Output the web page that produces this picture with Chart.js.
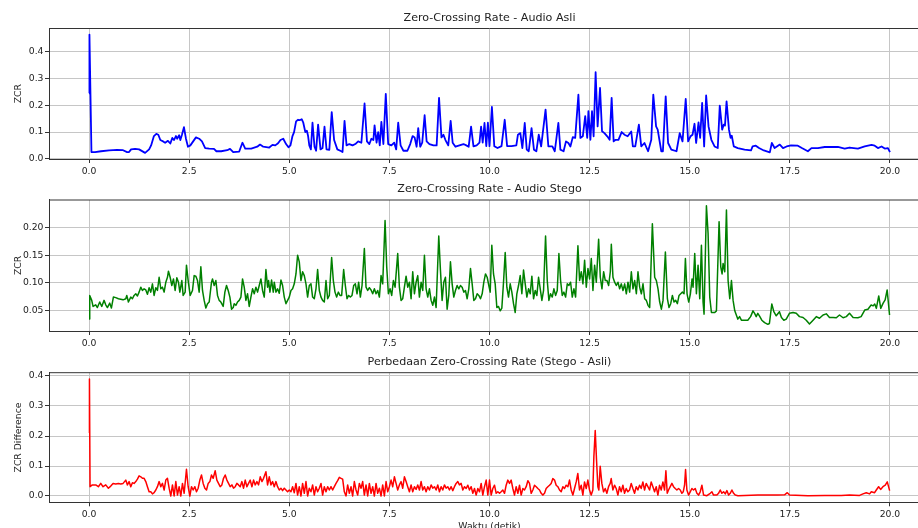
<!DOCTYPE html>
<html>
<head>
<meta charset="utf-8">
<script src="https://cdn.jsdelivr.net/npm/chart.js@4/dist/chart.umd.min.js"></script>
<style>
html,body{margin:0;padding:0;overflow:hidden;background:#fff;width:918px;height:528px;}
.w{position:absolute;left:0;}
</style>
</head>
<body>
<div class="w" style="top:11px"><canvas id="c1" width="940" height="168"></canvas></div>
<div class="w" style="top:182px"><canvas id="c2" width="940" height="169"></canvas></div>
<div class="w" style="top:355px"><canvas id="c3" width="940" height="185"></canvas></div>
<script>
// ---------- data (time in s, ZCR value) ----------
const titles = ["Zero-Crossing Rate - Audio Asli", "Zero-Crossing Rate - Audio Stego", "Perbedaan Zero-Crossing Rate (Stego - Asli)"];
const yLabels = ["ZCR", "ZCR", "ZCR Difference"];
const xLabel = "Waktu (detik)";
const xTicks = [0, 2.5, 5, 7.5, 10, 12.5, 15, 17.5, 20];
const yTicksAsli = [0, 0.1, 0.2, 0.3, 0.4];
const yTicksStego = [0.05, 0.10, 0.15, 0.20];
const yTicksDiff = [0, 0.1, 0.2, 0.3, 0.4];

const asli = [
[0,0.245],[0.01,0.465],[0.06,0.025],[0.15,0.025],[0.3,0.028],[0.5,0.031],[0.7,0.033],[0.85,0.032],[0.95,0.025],[1.0,0.025],[1.05,0.035],[1.15,0.037],[1.25,0.035],[1.4,0.022],[1.5,0.035],[1.55,0.05],[1.62,0.085],[1.68,0.093],[1.73,0.09],[1.78,0.07],[1.85,0.065],[1.9,0.06],[1.97,0.067],[2.03,0.057],[2.08,0.078],[2.12,0.07],[2.17,0.085],[2.2,0.075],[2.25,0.088],[2.28,0.07],[2.32,0.09],[2.37,0.118],[2.42,0.075],[2.47,0.045],[2.53,0.05],[2.6,0.065],[2.67,0.08],[2.75,0.075],[2.82,0.065],[2.9,0.04],[3.0,0.038],[3.12,0.037],[3.18,0.028],[3.3,0.028],[3.45,0.032],[3.52,0.037],[3.6,0.025],[3.75,0.027],[3.83,0.06],[3.9,0.038],[4.05,0.038],[4.2,0.045],[4.27,0.053],[4.35,0.045],[4.5,0.042],[4.58,0.052],[4.65,0.05],[4.72,0.058],[4.78,0.07],[4.85,0.075],[4.92,0.055],[4.98,0.043],[5.03,0.05],[5.08,0.085],[5.12,0.1],[5.17,0.14],[5.22,0.146],[5.27,0.145],[5.31,0.148],[5.35,0.135],[5.4,0.1],[5.44,0.105],[5.47,0.085],[5.5,0.05],[5.54,0.035],[5.58,0.135],[5.63,0.045],[5.67,0.03],[5.72,0.128],[5.78,0.035],[5.83,0.04],[5.88,0.12],[5.93,0.035],[6.0,0.033],[6.06,0.175],[6.12,0.07],[6.2,0.035],[6.3,0.028],[6.33,0.025],[6.38,0.142],[6.43,0.05],[6.5,0.055],[6.58,0.05],[6.65,0.055],[6.72,0.065],[6.8,0.06],[6.88,0.207],[6.94,0.065],[7.0,0.055],[7.05,0.075],[7.1,0.07],[7.13,0.125],[7.18,0.06],[7.22,0.1],[7.26,0.05],[7.3,0.138],[7.35,0.055],[7.41,0.243],[7.47,0.055],[7.55,0.05],[7.62,0.06],[7.67,0.035],[7.72,0.135],[7.78,0.05],[7.85,0.03],[7.95,0.03],[8.02,0.055],[8.08,0.085],[8.13,0.08],[8.18,0.045],[8.22,0.115],[8.27,0.045],[8.32,0.06],[8.38,0.163],[8.43,0.065],[8.5,0.055],[8.6,0.05],[8.68,0.05],[8.74,0.228],[8.8,0.08],[8.85,0.09],[8.9,0.07],[8.97,0.05],[9.03,0.142],[9.08,0.06],[9.15,0.045],[9.25,0.05],[9.35,0.055],[9.42,0.05],[9.48,0.045],[9.54,0.12],[9.6,0.046],[9.68,0.05],[9.75,0.06],[9.79,0.12],[9.83,0.06],[9.875,0.134],[9.92,0.047],[9.96,0.135],[10.0,0.047],[10.06,0.194],[10.12,0.047],[10.2,0.04],[10.3,0.047],[10.38,0.146],[10.44,0.047],[10.55,0.047],[10.67,0.05],[10.71,0.09],[10.77,0.096],[10.82,0.04],[10.88,0.134],[10.93,0.034],[10.98,0.028],[11.05,0.115],[11.11,0.034],[11.17,0.028],[11.23,0.09],[11.29,0.046],[11.4,0.184],[11.47,0.046],[11.57,0.046],[11.63,0.028],[11.72,0.134],[11.77,0.034],[11.85,0.028],[11.91,0.065],[11.97,0.059],[12.02,0.046],[12.08,0.081],[12.14,0.078],[12.22,0.24],[12.27,0.078],[12.33,0.084],[12.39,0.16],[12.44,0.078],[12.47,0.178],[12.52,0.071],[12.56,0.178],[12.6,0.084],[12.65,0.324],[12.7,0.121],[12.76,0.265],[12.81,0.103],[12.87,0.096],[12.94,0.084],[13.0,0.071],[13.05,0.228],[13.1,0.065],[13.15,0.071],[13.22,0.071],[13.3,0.1],[13.37,0.09],[13.45,0.084],[13.54,0.102],[13.58,0.046],[13.64,0.046],[13.73,0.128],[13.79,0.046],[13.87,0.059],[13.96,0.028],[14.04,0.071],[14.09,0.24],[14.16,0.121],[14.2,0.109],[14.29,0.028],[14.33,0.028],[14.4,0.234],[14.46,0.059],[14.54,0.034],[14.67,0.028],[14.75,0.096],[14.82,0.065],[14.9,0.224],[14.96,0.065],[15.02,0.084],[15.07,0.09],[15.12,0.131],[15.16,0.059],[15.22,0.136],[15.26,0.078],[15.31,0.209],[15.36,0.046],[15.41,0.237],[15.47,0.121],[15.54,0.071],[15.62,0.046],[15.7,0.04],[15.75,0.199],[15.81,0.109],[15.85,0.128],[15.88,0.124],[15.92,0.215],[15.98,0.109],[16.02,0.078],[16.05,0.086],[16.1,0.046],[16.2,0.04],[16.37,0.034],[16.53,0.031],[16.57,0.046],[16.65,0.049],[16.73,0.04],[16.85,0.031],[17.0,0.024],[17.05,0.059],[17.12,0.04],[17.25,0.053],[17.33,0.04],[17.42,0.046],[17.53,0.05],[17.7,0.049],[17.8,0.04],[17.95,0.028],[18.04,0.04],[18.2,0.04],[18.37,0.044],[18.7,0.044],[18.87,0.038],[18.99,0.042],[19.2,0.038],[19.37,0.046],[19.54,0.052],[19.62,0.049],[19.7,0.04],[19.79,0.046],[19.87,0.038],[19.95,0.04],[20.0,0.025]
];

const stego = [
[0,0.034],[0.017,0.077],[0.067,0.068],[0.1,0.057],[0.167,0.060],[0.208,0.055],[0.267,0.065],[0.317,0.057],[0.375,0.068],[0.417,0.060],[0.458,0.055],[0.517,0.063],[0.558,0.054],[0.608,0.074],[0.667,0.073],[0.733,0.071],[0.792,0.070],[0.85,0.069],[0.917,0.071],[0.942,0.077],[0.983,0.065],[1.042,0.074],[1.083,0.071],[1.125,0.077],[1.167,0.080],[1.208,0.076],[1.25,0.083],[1.292,0.092],[1.333,0.086],[1.375,0.089],[1.417,0.087],[1.458,0.079],[1.5,0.091],[1.542,0.083],[1.583,0.098],[1.625,0.077],[1.667,0.091],[1.708,0.086],[1.75,0.110],[1.792,0.089],[1.833,0.092],[1.875,0.083],[1.917,0.101],[1.958,0.110],[1.983,0.121],[2.025,0.110],[2.067,0.095],[2.108,0.107],[2.15,0.086],[2.192,0.109],[2.233,0.101],[2.267,0.083],[2.317,0.104],[2.35,0.077],[2.4,0.083],[2.433,0.132],[2.475,0.104],[2.525,0.077],[2.583,0.086],[2.625,0.113],[2.667,0.112],[2.708,0.104],[2.75,0.083],[2.792,0.129],[2.833,0.086],[2.875,0.068],[2.917,0.054],[2.958,0.062],[3.0,0.065],[3.058,0.101],[3.083,0.107],[3.125,0.095],[3.167,0.104],[3.208,0.077],[3.25,0.068],[3.292,0.065],[3.35,0.057],[3.392,0.083],[3.433,0.095],[3.475,0.086],[3.517,0.074],[3.558,0.052],[3.6,0.055],[3.625,0.062],[3.667,0.059],[3.708,0.065],[3.75,0.068],[3.792,0.074],[3.833,0.107],[3.875,0.092],[3.917,0.068],[3.958,0.080],[4.0,0.057],[4.042,0.074],[4.083,0.089],[4.125,0.080],[4.167,0.092],[4.208,0.083],[4.25,0.095],[4.292,0.107],[4.333,0.086],[4.375,0.074],[4.417,0.124],[4.458,0.092],[4.483,0.104],[4.517,0.083],[4.558,0.105],[4.6,0.083],[4.625,0.101],[4.667,0.083],[4.708,0.089],[4.75,0.081],[4.792,0.105],[4.833,0.095],[4.875,0.074],[4.917,0.062],[4.958,0.068],[5.0,0.074],[5.042,0.086],[5.083,0.089],[5.125,0.098],[5.167,0.116],[5.208,0.150],[5.25,0.138],[5.292,0.104],[5.333,0.120],[5.375,0.113],[5.417,0.098],[5.458,0.074],[5.5,0.095],[5.542,0.098],[5.583,0.074],[5.625,0.071],[5.667,0.089],[5.708,0.124],[5.75,0.086],[5.792,0.074],[5.833,0.068],[5.875,0.065],[5.917,0.104],[5.958,0.071],[6.0,0.077],[6.058,0.146],[6.1,0.104],[6.142,0.083],[6.183,0.074],[6.225,0.083],[6.267,0.077],[6.308,0.077],[6.358,0.124],[6.4,0.095],[6.442,0.071],[6.483,0.077],[6.525,0.074],[6.567,0.077],[6.608,0.095],[6.65,0.098],[6.692,0.080],[6.733,0.101],[6.775,0.074],[6.817,0.095],[6.875,0.162],[6.917,0.092],[6.958,0.086],[7.0,0.091],[7.042,0.087],[7.083,0.080],[7.125,0.089],[7.167,0.080],[7.208,0.086],[7.25,0.074],[7.292,0.113],[7.333,0.098],[7.392,0.213],[7.433,0.129],[7.475,0.080],[7.517,0.089],[7.558,0.077],[7.6,0.104],[7.642,0.092],[7.708,0.153],[7.75,0.092],[7.792,0.068],[7.833,0.071],[7.875,0.092],[7.917,0.112],[7.958,0.092],[8.0,0.101],[8.042,0.071],[8.083,0.120],[8.125,0.080],[8.167,0.101],[8.208,0.113],[8.25,0.074],[8.292,0.101],[8.333,0.086],[8.375,0.150],[8.417,0.089],[8.458,0.074],[8.5,0.089],[8.542,0.068],[8.583,0.059],[8.625,0.074],[8.667,0.055],[8.733,0.185],[8.775,0.123],[8.817,0.068],[8.858,0.101],[8.9,0.110],[8.942,0.052],[8.983,0.077],[9.025,0.138],[9.067,0.098],[9.108,0.074],[9.15,0.086],[9.192,0.095],[9.233,0.089],[9.275,0.095],[9.317,0.092],[9.358,0.083],[9.4,0.086],[9.442,0.071],[9.483,0.089],[9.525,0.126],[9.567,0.098],[9.608,0.068],[9.65,0.071],[9.692,0.080],[9.733,0.077],[9.775,0.071],[9.817,0.080],[9.858,0.101],[9.9,0.116],[9.942,0.110],[9.983,0.095],[10.017,0.083],[10.058,0.168],[10.1,0.116],[10.142,0.098],[10.183,0.055],[10.225,0.057],[10.267,0.049],[10.308,0.054],[10.35,0.101],[10.392,0.155],[10.433,0.092],[10.475,0.074],[10.517,0.098],[10.558,0.083],[10.6,0.062],[10.642,0.046],[10.683,0.080],[10.725,0.095],[10.767,0.113],[10.808,0.080],[10.85,0.123],[10.892,0.098],[10.933,0.074],[10.975,0.089],[11.017,0.080],[11.058,0.112],[11.1,0.071],[11.142,0.086],[11.183,0.077],[11.225,0.110],[11.267,0.089],[11.308,0.068],[11.35,0.086],[11.4,0.185],[11.442,0.104],[11.483,0.068],[11.525,0.080],[11.567,0.074],[11.608,0.089],[11.65,0.077],[11.692,0.086],[11.733,0.153],[11.775,0.104],[11.817,0.077],[11.858,0.083],[11.9,0.074],[11.942,0.098],[11.983,0.095],[12.025,0.101],[12.067,0.074],[12.108,0.089],[12.15,0.074],[12.208,0.167],[12.25,0.104],[12.292,0.120],[12.333,0.098],[12.375,0.141],[12.417,0.092],[12.458,0.126],[12.5,0.107],[12.542,0.144],[12.583,0.086],[12.625,0.132],[12.667,0.101],[12.725,0.179],[12.767,0.110],[12.808,0.089],[12.85,0.120],[12.892,0.104],[12.933,0.104],[12.975,0.095],[13.017,0.120],[13.042,0.170],[13.083,0.110],[13.125,0.101],[13.167,0.095],[13.208,0.101],[13.25,0.089],[13.292,0.098],[13.333,0.086],[13.375,0.098],[13.417,0.080],[13.458,0.101],[13.5,0.083],[13.542,0.120],[13.583,0.089],[13.625,0.104],[13.667,0.080],[13.708,0.120],[13.75,0.092],[13.792,0.080],[13.833,0.098],[13.875,0.071],[13.917,0.068],[13.958,0.059],[14.0,0.055],[14.067,0.207],[14.125,0.110],[14.167,0.104],[14.208,0.089],[14.25,0.065],[14.292,0.052],[14.333,0.068],[14.392,0.156],[14.442,0.071],[14.483,0.055],[14.525,0.062],[14.567,0.077],[14.608,0.065],[14.65,0.068],[14.692,0.062],[14.733,0.077],[14.775,0.080],[14.817,0.083],[14.858,0.080],[14.892,0.144],[14.933,0.080],[14.975,0.065],[15.017,0.080],[15.058,0.107],[15.083,0.092],[15.125,0.153],[15.167,0.080],[15.208,0.132],[15.25,0.071],[15.292,0.168],[15.333,0.065],[15.358,0.043],[15.417,0.240],[15.458,0.190],[15.5,0.074],[15.542,0.046],[15.625,0.046],[15.667,0.049],[15.733,0.211],[15.775,0.129],[15.808,0.116],[15.833,0.135],[15.875,0.120],[15.917,0.232],[15.958,0.104],[16.0,0.071],[16.042,0.104],[16.083,0.068],[16.125,0.049],[16.2,0.034],[16.245,0.0385],[16.29,0.032],[16.37,0.032],[16.45,0.032],[16.52,0.0385],[16.58,0.049],[16.62,0.0445],[16.66,0.0385],[16.70,0.0445],[16.74,0.040],[16.80,0.032],[16.87,0.0275],[16.95,0.0245],[16.99,0.026],[17.05,0.0615],[17.10,0.0475],[17.16,0.040],[17.24,0.0475],[17.29,0.037],[17.35,0.032],[17.41,0.034],[17.49,0.0445],[17.58,0.046],[17.66,0.0445],[17.74,0.0385],[17.83,0.037],[17.91,0.032],[17.99,0.025],[18.08,0.032],[18.16,0.0385],[18.24,0.0355],[18.33,0.0415],[18.41,0.0435],[18.49,0.037],[18.58,0.037],[18.66,0.0365],[18.74,0.0415],[18.83,0.0365],[18.91,0.0385],[18.99,0.0445],[19.08,0.037],[19.2,0.0365],[19.28,0.0385],[19.37,0.0505],[19.45,0.052],[19.53,0.0595],[19.58,0.058],[19.62,0.0615],[19.66,0.0535],[19.72,0.076],[19.77,0.0535],[19.83,0.063],[19.88,0.069],[19.93,0.087],[19.99,0.0415]
];

const diff = [
[0,0.21],[0.01,0.39],[0.025,0.031],[0.083,0.037],[0.167,0.037],[0.233,0.031],[0.292,0.042],[0.35,0.031],[0.417,0.037],[0.483,0.026],[0.542,0.033],[0.6,0.042],[0.667,0.040],[0.733,0.042],[0.792,0.040],[0.85,0.042],[0.917,0.053],[0.958,0.037],[1.0,0.048],[1.042,0.031],[1.083,0.044],[1.125,0.042],[1.167,0.048],[1.208,0.056],[1.25,0.067],[1.292,0.064],[1.333,0.059],[1.375,0.059],[1.417,0.048],[1.458,0.031],[1.5,0.014],[1.542,0.014],[1.583,0.007],[1.625,0.011],[1.667,0.020],[1.708,0.031],[1.75,0.048],[1.792,0.031],[1.833,0.042],[1.875,0.020],[1.917,0.053],[1.958,0.059],[2.0,0.026],[2.042,0.0],[2.083,0.037],[2.125,0.0],[2.167,0.048],[2.208,0.003],[2.25,0.031],[2.292,0.0],[2.333,0.042],[2.375,0.009],[2.433,0.089],[2.475,0.031],[2.517,0.0],[2.558,0.031],[2.6,0.020],[2.642,0.031],[2.683,0.014],[2.725,0.026],[2.767,0.053],[2.808,0.070],[2.85,0.042],[2.892,0.026],[2.933,0.020],[2.975,0.042],[3.017,0.048],[3.058,0.070],[3.1,0.059],[3.15,0.084],[3.192,0.053],[3.233,0.042],[3.275,0.031],[3.317,0.037],[3.358,0.059],[3.4,0.070],[3.442,0.053],[3.483,0.042],[3.525,0.031],[3.567,0.037],[3.608,0.026],[3.65,0.031],[3.692,0.042],[3.733,0.037],[3.775,0.031],[3.817,0.048],[3.858,0.026],[3.9,0.053],[3.942,0.031],[3.983,0.042],[4.025,0.053],[4.067,0.031],[4.108,0.053],[4.15,0.037],[4.192,0.048],[4.233,0.037],[4.275,0.064],[4.317,0.048],[4.358,0.059],[4.417,0.081],[4.458,0.037],[4.5,0.064],[4.542,0.037],[4.583,0.048],[4.625,0.031],[4.667,0.048],[4.708,0.031],[4.75,0.020],[4.792,0.026],[4.833,0.018],[4.875,0.026],[4.917,0.020],[4.958,0.014],[5.0,0.020],[5.042,0.014],[5.083,0.031],[5.125,0.011],[5.167,0.042],[5.208,0.003],[5.25,0.031],[5.292,0.0],[5.333,0.042],[5.375,0.009],[5.417,0.048],[5.458,0.0],[5.5,0.026],[5.542,0.014],[5.583,0.037],[5.625,0.003],[5.667,0.031],[5.708,0.014],[5.75,0.026],[5.792,0.042],[5.833,0.003],[5.875,0.031],[5.917,0.014],[5.958,0.031],[6.0,0.020],[6.042,0.031],[6.083,0.020],[6.125,0.031],[6.167,0.042],[6.208,0.051],[6.25,0.062],[6.292,0.059],[6.333,0.056],[6.375,0.014],[6.417,0.0],[6.458,0.037],[6.5,0.009],[6.542,0.031],[6.583,0.0],[6.625,0.048],[6.667,0.020],[6.708,0.003],[6.75,0.042],[6.792,0.026],[6.833,0.048],[6.875,0.003],[6.917,0.037],[6.958,0.0],[7.0,0.042],[7.042,0.009],[7.083,0.031],[7.125,0.0],[7.167,0.042],[7.208,0.009],[7.25,0.026],[7.292,0.0],[7.333,0.037],[7.375,0.0],[7.417,0.048],[7.458,0.014],[7.5,0.031],[7.542,0.053],[7.583,0.031],[7.625,0.064],[7.667,0.042],[7.708,0.020],[7.75,0.037],[7.792,0.048],[7.833,0.026],[7.875,0.064],[7.917,0.048],[7.958,0.031],[8.0,0.014],[8.042,0.037],[8.083,0.014],[8.125,0.031],[8.167,0.022],[8.208,0.037],[8.25,0.020],[8.292,0.048],[8.333,0.020],[8.375,0.031],[8.417,0.014],[8.458,0.031],[8.5,0.020],[8.542,0.037],[8.583,0.026],[8.625,0.031],[8.667,0.020],[8.708,0.037],[8.75,0.014],[8.792,0.031],[8.833,0.020],[8.875,0.037],[8.917,0.026],[8.958,0.031],[9.0,0.020],[9.042,0.031],[9.083,0.018],[9.125,0.031],[9.167,0.042],[9.208,0.048],[9.25,0.037],[9.292,0.042],[9.334,0.020],[9.376,0.031],[9.417,0.025],[9.459,0.036],[9.5,0.020],[9.542,0.031],[9.584,0.009],[9.625,0.025],[9.667,0.003],[9.709,0.025],[9.75,0.014],[9.792,0.042],[9.833,0.003],[9.875,0.031],[9.917,0.053],[9.958,0.003],[10.0,0.053],[10.042,0.003],[10.083,0.025],[10.125,0.036],[10.167,0.009],[10.208,0.014],[10.25,0.009],[10.291,0.014],[10.333,0.020],[10.375,0.009],[10.416,0.036],[10.458,0.053],[10.5,0.042],[10.541,0.053],[10.583,0.025],[10.624,0.003],[10.666,0.031],[10.708,0.009],[10.749,0.036],[10.791,0.003],[10.833,0.025],[10.874,0.020],[10.916,0.031],[10.958,0.051],[10.999,0.042],[11.041,0.009],[11.082,0.020],[11.124,0.036],[11.166,0.031],[11.207,0.025],[11.249,0.020],[11.291,0.009],[11.332,0.003],[11.374,0.009],[11.415,0.025],[11.457,0.031],[11.499,0.036],[11.54,0.042],[11.582,0.058],[11.624,0.053],[11.665,0.036],[11.707,0.031],[11.749,0.020],[11.79,0.014],[11.832,0.031],[11.873,0.025],[11.915,0.036],[11.957,0.031],[11.998,0.053],[12.04,0.020],[12.082,0.003],[12.123,0.025],[12.165,0.047],[12.206,0.075],[12.248,0.020],[12.29,0.036],[12.331,0.003],[12.373,0.047],[12.415,0.025],[12.456,0.053],[12.498,0.020],[12.54,0.003],[12.581,0.020],[12.606,0.130],[12.64,0.218],[12.673,0.119],[12.706,0.031],[12.731,0.020],[12.764,0.099],[12.806,0.042],[12.848,0.014],[12.889,0.025],[12.931,0.009],[12.973,0.031],[13.014,0.042],[13.039,0.058],[13.081,0.020],[13.122,0.036],[13.164,0.025],[13.206,0.003],[13.247,0.031],[13.289,0.014],[13.331,0.036],[13.372,0.009],[13.414,0.025],[13.455,0.014],[13.497,0.020],[13.539,0.042],[13.58,0.025],[13.622,0.009],[13.664,0.031],[13.705,0.020],[13.747,0.036],[13.788,0.025],[13.83,0.047],[13.872,0.020],[13.913,0.042],[13.955,0.031],[13.997,0.020],[14.038,0.047],[14.08,0.031],[14.122,0.014],[14.163,0.031],[14.205,0.003],[14.246,0.036],[14.288,0.020],[14.33,0.047],[14.371,0.020],[14.405,0.084],[14.438,0.009],[14.471,0.020],[14.513,0.031],[14.555,0.042],[14.596,0.031],[14.638,0.025],[14.679,0.020],[14.721,0.025],[14.763,0.020],[14.804,0.009],[14.838,0.014],[14.871,0.036],[14.896,0.088],[14.929,0.020],[14.971,0.003],[15.012,0.014],[15.054,0.025],[15.096,0.020],[15.137,0.025],[15.179,0.009],[15.221,0.003],[15.262,0.014],[15.304,0.036],[15.346,0.003],[15.429,0.001],[15.512,0.009],[15.554,0.014],[15.595,0.003],[15.679,0.003],[15.72,0.009],[15.762,0.020],[15.803,0.009],[15.845,0.014],[15.887,0.007],[15.928,0.018],[15.97,0.003],[16.012,0.009],[16.053,0.020],[16.095,0.009],[16.137,0.003],[16.203,0.001],[16.703,0.003],[17.202,0.003],[17.369,0.004],[17.436,0.011],[17.494,0.003],[17.952,0.001],[18.368,0.002],[18.784,0.002],[18.993,0.003],[19.242,0.002],[19.326,0.007],[19.409,0.011],[19.492,0.007],[19.534,0.014],[19.617,0.011],[19.659,0.020],[19.717,0.031],[19.767,0.022],[19.825,0.031],[19.883,0.036],[19.933,0.047],[19.992,0.018]
];

// ---------- rendering ----------
const FONT = "'DejaVu Sans', 'Liberation Sans', sans-serif";
const TXT = '#222';
const SPINE = '#333';
const GRID = '#c6c6c6';

const frame = {
  id: 'frame',
  afterDraw(c) {
    const a = c.chartArea, ctx = c.ctx;
    ctx.save();
    ctx.strokeStyle = SPINE; ctx.lineWidth = 1;
    ctx.beginPath();
    ctx.moveTo(a.left, a.top); ctx.lineTo(a.right, a.top); ctx.lineTo(a.right, a.bottom);
    ctx.stroke();
    ctx.restore();
  }
};

function makeChart(id, series, color, lw, title, yLabel, yTicks, yMin, yMax, yDec, padTop, xAxisH, withXTitle) {
  new Chart(document.getElementById(id), {
    type: 'line',
    data: { datasets: [{ data: series.map(p => ({x: p[0], y: p[1]})), borderColor: color, borderWidth: lw, borderJoinStyle: 'round', pointRadius: 0, tension: 0, fill: false }] },
    options: {
      responsive: false, animation: false, events: [],
      layout: { padding: { left: 0, right: 10, top: padTop, bottom: 0 } },
      plugins: {
        legend: { display: false }, tooltip: { enabled: false },
        title: { display: true, text: title, color: TXT, fullSize: false, font: { family: FONT, size: 11.1, weight: 'normal' }, padding: { top: 0, bottom: 3.84 } }
      },
      scales: {
        x: {
          type: 'linear', min: -1, max: 21,
          afterBuildTicks: s => { s.ticks = xTicks.map(v => ({value: v})); },
          afterFit: s => { s.height = xAxisH; },
          ticks: { color: TXT, font: { family: FONT, size: 9.25 }, padding: 2.8, maxRotation: 0, autoSkip: false, callback: v => Number(v).toFixed(1) },
          grid: { color: GRID, lineWidth: 1, tickLength: 4, tickColor: SPINE },
          border: { color: SPINE, width: 1 },
          title: { display: withXTitle, text: xLabel, color: TXT, font: { family: FONT, size: 9.25 }, padding: { top: 0, bottom: 8.0 } }
        },
        y: {
          type: 'linear', min: yMin, max: yMax,
          afterBuildTicks: s => { s.ticks = yTicks.map(v => ({value: v})); },
          afterFit: s => { s.width = 49; },
          ticks: { color: TXT, font: { family: FONT, size: 9.25 }, padding: 1.5, autoSkip: false, callback: v => Number(v).toFixed(yDec) },
          grid: { color: GRID, lineWidth: 1, tickLength: 4, tickColor: SPINE },
          border: { color: SPINE, width: 1 },
          title: { display: true, text: yLabel, color: TXT, font: { family: FONT, size: 9.25 }, padding: { top: 13.3, bottom: 0 } }
        }
      }
    },
    plugins: [frame]
  });
}

makeChart('c1', asli, '#0000ff', 1.8, titles[0], yLabels[0], yTicksAsli, -0.001, 0.488, 1, 0.34, 20, false);
makeChart('c2', stego, '#008000', 1.5, titles[1], yLabels[1], yTicksStego, 0.0124, 0.2503, 2, 0.84, 20, false);
makeChart('c3', diff, '#ff0000', 1.5, titles[2], yLabels[2], yTicksDiff, -0.021, 0.411, 1, 0.54, 37.7, true);
</script>
</body>
</html>
